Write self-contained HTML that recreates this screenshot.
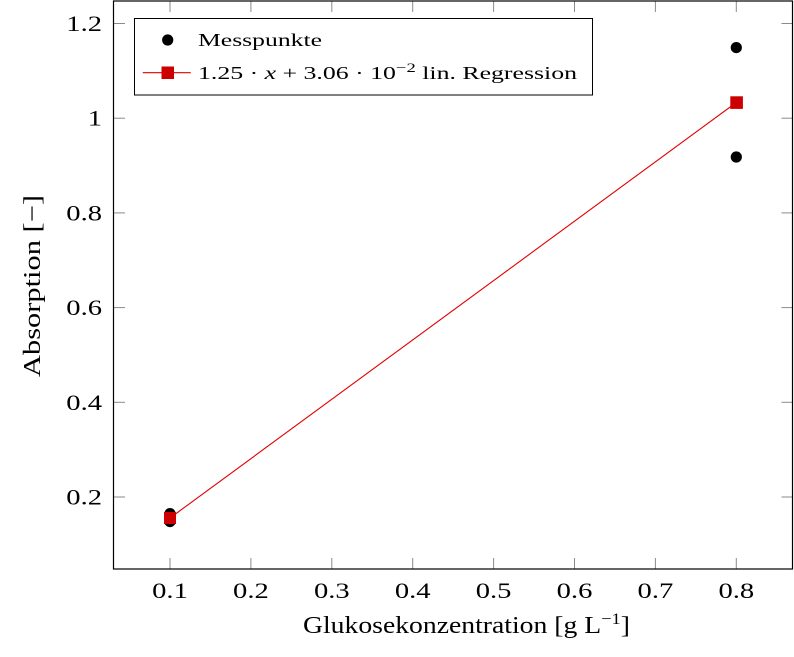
<!DOCTYPE html>
<html><head><meta charset="utf-8"><style>
html,body{margin:0;padding:0;background:#fff;}
svg{display:block;}
text{font-family:"Liberation Serif",serif;fill:#000;}
</style></head><body>
<svg width="794" height="657" viewBox="0 0 794 657" xmlns="http://www.w3.org/2000/svg">
<rect x="0" y="0" width="794" height="657" fill="#fff"/>
<!-- ticks -->
<g stroke="#8a8a8a" stroke-width="1">
<line x1="170" y1="569" x2="170" y2="558"/><line x1="170" y1="1" x2="170" y2="12"/>
<line x1="250.9" y1="569" x2="250.9" y2="558"/><line x1="250.9" y1="1" x2="250.9" y2="12"/>
<line x1="331.8" y1="569" x2="331.8" y2="558"/><line x1="331.8" y1="1" x2="331.8" y2="12"/>
<line x1="412.7" y1="569" x2="412.7" y2="558"/><line x1="412.7" y1="1" x2="412.7" y2="12"/>
<line x1="493.6" y1="569" x2="493.6" y2="558"/><line x1="493.6" y1="1" x2="493.6" y2="12"/>
<line x1="574.5" y1="569" x2="574.5" y2="558"/><line x1="574.5" y1="1" x2="574.5" y2="12"/>
<line x1="655.4" y1="569" x2="655.4" y2="558"/><line x1="655.4" y1="1" x2="655.4" y2="12"/>
<line x1="736.3" y1="569" x2="736.3" y2="558"/><line x1="736.3" y1="1" x2="736.3" y2="12"/>
<line x1="113.5" y1="497" x2="125" y2="497"/><line x1="793" y1="497" x2="781.5" y2="497"/>
<line x1="113.5" y1="402.3" x2="125" y2="402.3"/><line x1="793" y1="402.3" x2="781.5" y2="402.3"/>
<line x1="113.5" y1="307.6" x2="125" y2="307.6"/><line x1="793" y1="307.6" x2="781.5" y2="307.6"/>
<line x1="113.5" y1="212.9" x2="125" y2="212.9"/><line x1="793" y1="212.9" x2="781.5" y2="212.9"/>
<line x1="113.5" y1="118.2" x2="125" y2="118.2"/><line x1="793" y1="118.2" x2="781.5" y2="118.2"/>
<line x1="113.5" y1="23.5" x2="125" y2="23.5"/><line x1="793" y1="23.5" x2="781.5" y2="23.5"/>
</g>
<!-- axis box -->
<rect x="113.5" y="1" width="679" height="568" fill="none" stroke="#000" stroke-width="1.2"/>
<!-- regression line -->
<line x1="170" y1="518" x2="736.3" y2="102.5" stroke="#e00000" stroke-width="1.1"/>
<!-- data points -->
<g fill="#000">
<circle cx="170" cy="513.6" r="5.6"/>
<circle cx="170" cy="521.6" r="5.6"/>
<circle cx="736.3" cy="47.6" r="5.6"/>
<circle cx="736.3" cy="157" r="5.6"/>
</g>
<g fill="#cc0000">
<rect x="164" y="512" width="12" height="12"/>
<rect x="730.3" y="96.3" width="12.6" height="12.6"/>
</g>
<!-- x tick labels -->
<g font-size="22.5" text-anchor="middle">
<text transform="translate(170,598) scale(1.27,1)">0.1</text>
<text transform="translate(250.9,598) scale(1.27,1)">0.2</text>
<text transform="translate(331.8,598) scale(1.27,1)">0.3</text>
<text transform="translate(412.7,598) scale(1.27,1)">0.4</text>
<text transform="translate(493.6,598) scale(1.27,1)">0.5</text>
<text transform="translate(574.5,598) scale(1.27,1)">0.6</text>
<text transform="translate(655.4,598) scale(1.27,1)">0.7</text>
<text transform="translate(736.3,598) scale(1.27,1)">0.8</text>
</g>
<!-- y tick labels -->
<g font-size="22.5" text-anchor="end">
<text transform="translate(102,504.5) scale(1.27,1)">0.2</text>
<text transform="translate(102,409.8) scale(1.27,1)">0.4</text>
<text transform="translate(102,315.1) scale(1.27,1)">0.6</text>
<text transform="translate(102,220.4) scale(1.27,1)">0.8</text>
<text transform="translate(102,125.7) scale(1.27,1)">1</text>
<text transform="translate(102,31) scale(1.27,1)">1.2</text>
</g>
<!-- axis labels -->
<text x="303" y="633" font-size="24" textLength="327" lengthAdjust="spacingAndGlyphs">Glukosekonzentration [g L<tspan dy="-9" font-size="16">−1</tspan><tspan dy="9">]</tspan></text>
<text transform="translate(40,286) rotate(-90)" font-size="24" text-anchor="middle" textLength="182" lengthAdjust="spacingAndGlyphs">Absorption [−]</text>
<!-- legend -->
<rect x="134.5" y="18.5" width="458" height="76.5" fill="#fff" stroke="#000" stroke-width="1"/>
<circle cx="167.7" cy="40" r="5.6" fill="#000"/>
<line x1="142.7" y1="72.7" x2="190.7" y2="72.7" stroke="#e00000" stroke-width="1.1"/>
<rect x="161.5" y="66.5" width="12.5" height="12.5" fill="#cc0000"/>
<text x="198" y="46" font-size="18" textLength="124" lengthAdjust="spacingAndGlyphs">Messpunkte</text>
<text x="198" y="79" font-size="18" textLength="379" lengthAdjust="spacingAndGlyphs">1.25 · <tspan font-style="italic">x</tspan> + 3.06 · 10<tspan dy="-7" font-size="13">−2</tspan><tspan dy="7"> lin. Regression</tspan></text>
</svg>
</body></html>
